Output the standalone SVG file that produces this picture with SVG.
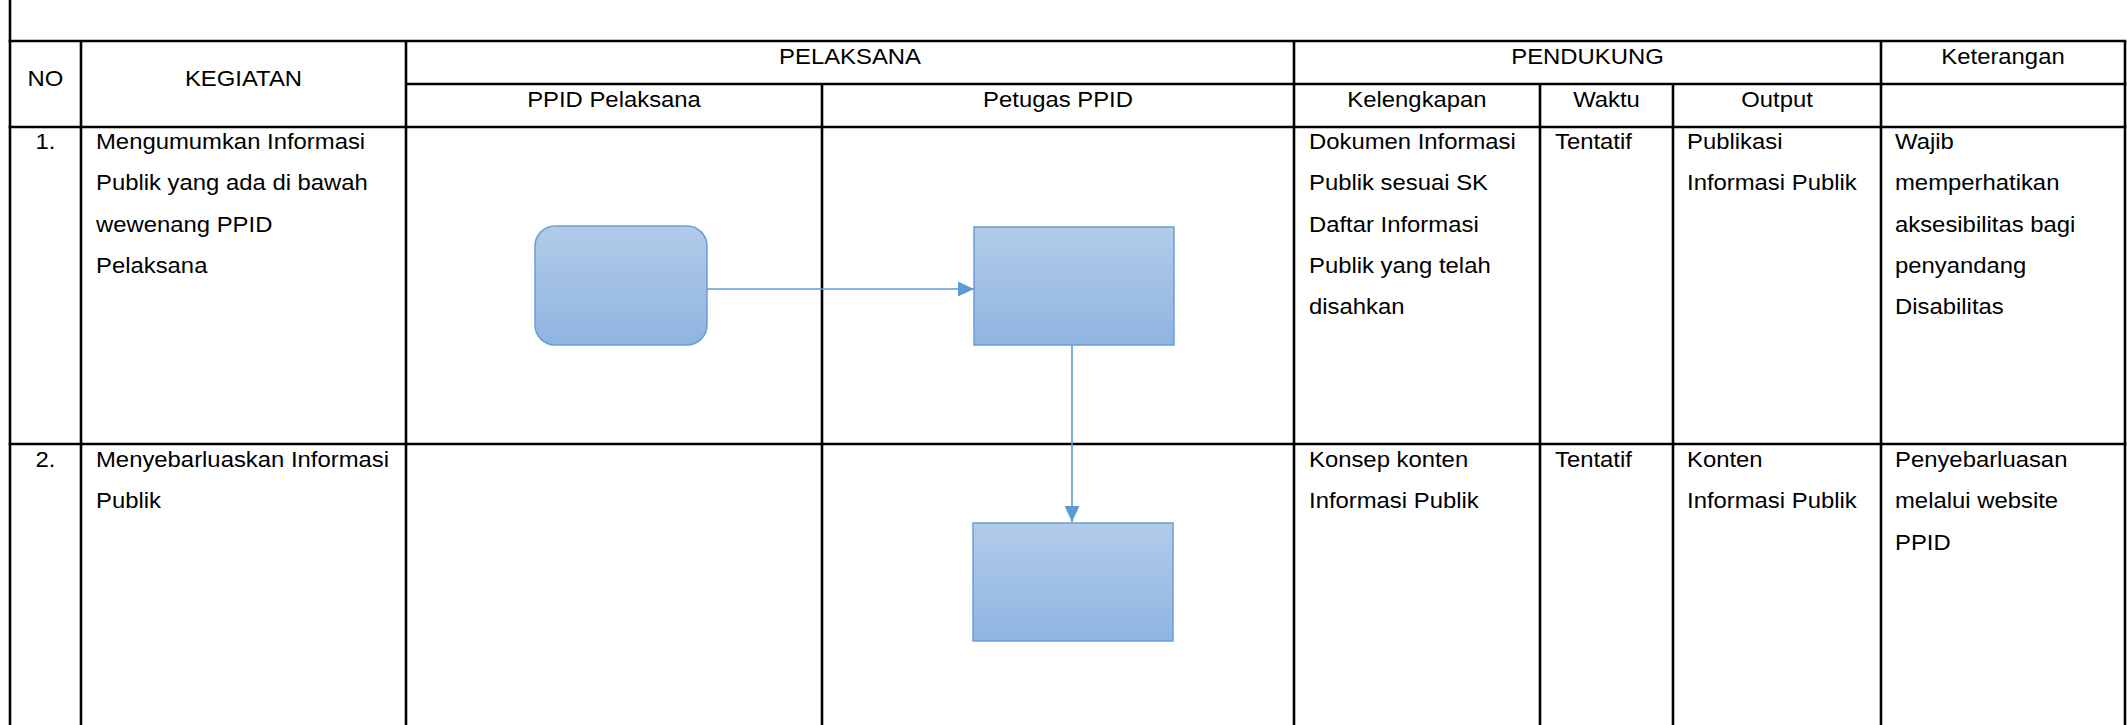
<svg xmlns="http://www.w3.org/2000/svg" width="2127" height="725" viewBox="0 0 2127 725">
<defs>
<style>
.grid line{stroke:#000;stroke-width:2.6;}
.t{font-family:"Liberation Sans",Arial,sans-serif;font-size:21.5px;fill:#000;}
.c{text-anchor:middle;}
.shape{fill:url(#g);stroke:#6a9fd6;stroke-width:1.5;}
.conn{stroke:#5b9bd5;stroke-width:1.6;fill:none;}
</style>
<linearGradient id="g" x1="0" y1="0" x2="0" y2="1"><stop offset="0" stop-color="#b2cbe9"/><stop offset="1" stop-color="#8fb4e1"/></linearGradient>
<marker id="ah" markerUnits="userSpaceOnUse" markerWidth="16" markerHeight="15" refX="16" refY="7.5" orient="auto"><path d="M0,0 L16,7.5 L0,15 Z" fill="#5b9bd5"/></marker>
</defs>
<rect x="0" y="0" width="2127" height="725" fill="#fff"/>
<g id="table" class="grid">
<line x1="10" y1="0" x2="10" y2="725"/>
<line x1="81" y1="41" x2="81" y2="725"/>
<line x1="406" y1="41" x2="406" y2="725"/>
<line x1="822" y1="84" x2="822" y2="725"/>
<line x1="1294" y1="41" x2="1294" y2="725"/>
<line x1="1540" y1="84" x2="1540" y2="725"/>
<line x1="1673" y1="84" x2="1673" y2="725"/>
<line x1="1881" y1="41" x2="1881" y2="725"/>
<line x1="2125" y1="41" x2="2125" y2="725"/>
<line x1="8.7" y1="41" x2="2126.3" y2="41"/>
<line x1="406" y1="84" x2="2126.3" y2="84"/>
<line x1="8.7" y1="127" x2="2126.3" y2="127"/>
<line x1="8.7" y1="444" x2="2126.3" y2="444"/>
</g>
<g id="texts" class="t">
<text class="c" transform="translate(45.5 86) scale(1.11 1)">NO</text>
<text class="c" transform="translate(243.5 86) scale(1.11 1)">KEGIATAN</text>
<text class="c" transform="translate(850 64) scale(1.11 1)">PELAKSANA</text>
<text class="c" transform="translate(1587.5 64) scale(1.11 1)">PENDUKUNG</text>
<text class="c" transform="translate(2003 64) scale(1.11 1)">Keterangan</text>
<text class="c" transform="translate(614 107) scale(1.11 1)">PPID Pelaksana</text>
<text class="c" transform="translate(1058 107) scale(1.11 1)">Petugas PPID</text>
<text class="c" transform="translate(1417 107) scale(1.11 1)">Kelengkapan</text>
<text class="c" transform="translate(1606.5 107) scale(1.11 1)">Waktu</text>
<text class="c" transform="translate(1777 107) scale(1.11 1)">Output</text>

<text class="c" transform="translate(45.5 149) scale(1.11 1)">1.</text>
<text transform="translate(96 149) scale(1.11 1)"><tspan x="0" y="0">Mengumumkan Informasi</tspan><tspan x="0" y="41.3">Publik yang ada di bawah</tspan><tspan x="0" y="82.6">wewenang PPID</tspan><tspan x="0" y="123.9">Pelaksana</tspan></text>
<text transform="translate(1309 149) scale(1.11 1)"><tspan x="0" y="0">Dokumen Informasi</tspan><tspan x="0" y="41.3">Publik sesuai SK</tspan><tspan x="0" y="82.6">Daftar Informasi</tspan><tspan x="0" y="123.9">Publik yang telah</tspan><tspan x="0" y="165.2">disahkan</tspan></text>
<text transform="translate(1555 149) scale(1.11 1)">Tentatif</text>
<text transform="translate(1687 149) scale(1.11 1)"><tspan x="0" y="0">Publikasi</tspan><tspan x="0" y="41.3">Informasi Publik</tspan></text>
<text transform="translate(1895 149) scale(1.11 1)"><tspan x="0" y="0">Wajib</tspan><tspan x="0" y="41.3">memperhatikan</tspan><tspan x="0" y="82.6">aksesibilitas bagi</tspan><tspan x="0" y="123.9">penyandang</tspan><tspan x="0" y="165.2">Disabilitas</tspan></text>

<text class="c" transform="translate(45.5 467) scale(1.11 1)">2.</text>
<text transform="translate(96 467) scale(1.11 1)"><tspan x="0" y="0">Menyebarluaskan Informasi</tspan><tspan x="0" y="41.3">Publik</tspan></text>
<text transform="translate(1309 467) scale(1.11 1)"><tspan x="0" y="0">Konsep konten</tspan><tspan x="0" y="41.3">Informasi Publik</tspan></text>
<text transform="translate(1555 467) scale(1.11 1)">Tentatif</text>
<text transform="translate(1687 467) scale(1.11 1)"><tspan x="0" y="0">Konten</tspan><tspan x="0" y="41.3">Informasi Publik</tspan></text>
<text transform="translate(1895 467) scale(1.11 1)"><tspan x="0" y="0">Penyebarluasan</tspan><tspan x="0" y="41.3">melalui website</tspan><tspan x="0" y="82.6">PPID</tspan></text>
</g>
<g id="connectors">
<line class="conn" x1="707" y1="289" x2="974" y2="289" marker-end="url(#ah)"/>
<line class="conn" x1="1072" y1="345" x2="1072" y2="522" marker-end="url(#ah)"/>
</g>
<g id="node-start"><rect class="shape" x="535" y="226" width="172" height="119" rx="20" ry="20"/></g>
<g id="node-step1"><rect class="shape" x="974" y="227" width="200" height="118"/></g>
<g id="node-step2"><rect class="shape" x="973" y="523" width="200" height="118"/></g>
</svg>
